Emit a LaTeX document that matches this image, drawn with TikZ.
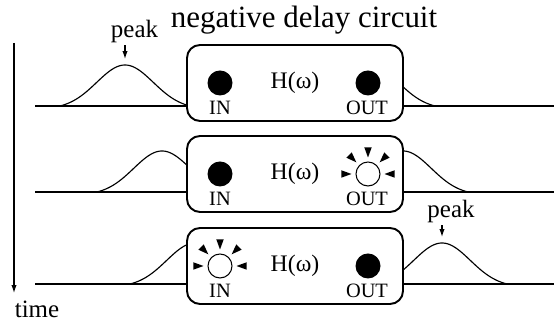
\documentclass[tikz,border=0pt]{standalone}
\usepackage{fontspec}
\setmainfont{Liberation Serif}
\usetikzlibrary{calc}
\usetikzlibrary{arrows.meta}

\tikzset{
  circuit/.style={draw, rounded corners=0.26cm, line width=1.1pt, minimum width=4.32cm,
    minimum height=1.52cm, font=\fontsize{13.5}{16}\selectfont},
  dot/.style={circle, fill, inner sep=0pt, minimum size=0.5cm},
  lamp/.style={circle, draw, line width=0.6pt, inner sep=0pt, minimum size=0.48cm},
  port/.style={font=\fontsize{11.6}{14}\selectfont, inner sep=0pt},
  peaktext/.style={font=\fontsize{14.2}{17}\selectfont, inner sep=1pt},
  signal/.style={line width=0.65pt},
  declare function={gauss(\t)=0.883*(exp(-(\t/0.8)*(\t/0.8))-0.0713);}
}
\newcommand{\rays}[1]{\foreach \ang in {0,45,...,180}
  \fill ($(#1)+(\ang:0.33)$) -- ($(#1)+({\ang+8}:0.54)$) -- ($(#1)+({\ang-8}:0.54)$) -- cycle;}

\begin{document}
\begin{tikzpicture}[>={Latex[length=4.5pt,width=3pt]}]
     \useasboundingbox (0,0) rectangle (11.08,6.48);

     \node[anchor=base, font=\fontsize{17.6}{21}\selectfont] (title) at (6.08, 5.92)
       {negative delay circuit};

     \coordinate (t0) at (0.28, 5.62);
     \coordinate (t1) at (0.28, 0.62);
     \draw[->, line width=0.65pt] (t0) -- (t1);
     \node[peaktext, anchor=base] (time) at (0.74, 0.12) {time};

     \node[circuit] (box1) at (5.9, 4.82) {H(ω)};
     \node[dot] (in1) at (4.4, 4.82) {};
     \node[dot] (out1) at (7.36, 4.82) {};
     \node[port] (inlab1) at (4.4, 4.32) {IN};
     \node[port] (outlab1) at (7.34, 4.32) {OUT};
     \coordinate (start1) at (0.7, 4.36);
     \coordinate (end1) at (11.08, 4.36);
     \draw[signal] (start1) -- (start1 -| box1.west);
     \draw[signal] (box1.east |- start1) -- (end1);
     \draw[signal] plot[domain=1.2:3.74, samples=50] (\x, {4.36+gauss(\x-2.5)});
     \draw[signal] plot[domain=8.06:8.7, samples=30] (\x, {4.36+gauss(\x-7.4)});
     \coordinate (top1) at (2.5, 5.3);
     \node[peaktext, anchor=base] (peak1) at (2.69, 5.72) {peak};
     \draw[->, line width=0.65pt] (peak1.south -| top1) -- (top1);

     \node[circuit] (box2) at (5.9, 3.0) {H(ω)};
     \node[dot] (in2) at (4.4, 3.0) {};
     \node[lamp] (out2) at (7.36, 3.0) {};
     \rays{out2}
     \node[port] (inlab2) at (4.4, 2.5) {IN};
     \node[port] (outlab2) at (7.34, 2.5) {OUT};
     \coordinate (start2) at (0.7, 2.64);
     \coordinate (end2) at (11.08, 2.64);
     \draw[signal] (start2) -- (start2 -| box2.west);
     \draw[signal] (box2.east |- start2) -- (end2);
     \draw[signal] plot[domain=1.94:3.74, samples=50] (\x, {2.64+gauss(\x-3.24)});
     \draw[signal] plot[domain=8.06:9.36, samples=50] (\x, {2.64+gauss(\x-8.06)});

     \node[circuit] (box3) at (5.9, 1.16) {H(ω)};
     \node[lamp] (in3) at (4.4, 1.16) {};
     \rays{in3}
     \node[dot] (out3) at (7.36, 1.16) {};
     \node[port] (inlab3) at (4.4, 0.66) {IN};
     \node[port] (outlab3) at (7.34, 0.66) {OUT};
     \coordinate (start3) at (0.7, 0.8);
     \coordinate (end3) at (11.08, 0.8);
     \draw[signal] (start3) -- (start3 -| box3.west);
     \draw[signal] (box3.east |- start3) -- (end3);
     \draw[signal] plot[domain=2.6:3.74, samples=50] (\x, {0.8+gauss(\x-3.9)});
     \draw[signal] plot[domain=8.06:10.14, samples=50] (\x, {0.8+gauss(\x-8.84)});
     \coordinate (top3) at (8.84, 1.74);
     \node[peaktext, anchor=base] (peak3) at (9.02, 2.12) {peak};
     \draw[->, line width=0.65pt] (peak3.south -| top3) -- (top3);
   \end{tikzpicture}
\end{document}
